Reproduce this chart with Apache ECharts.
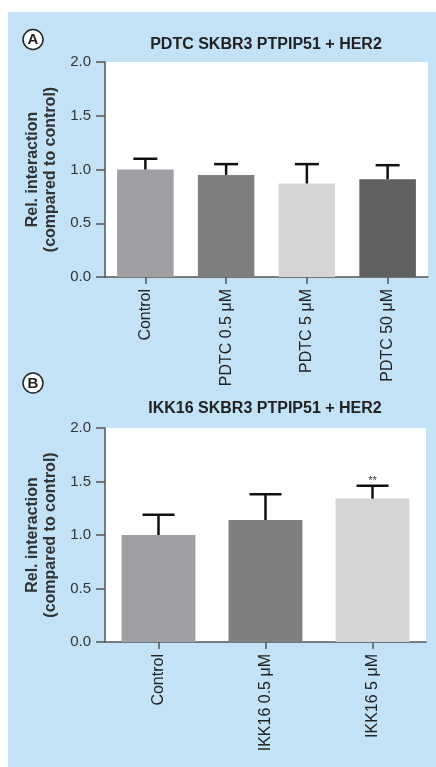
<!DOCTYPE html>
<html>
<head>
<meta charset="utf-8">
<script src="https://cdn.jsdelivr.net/npm/echarts@6/dist/echarts.min.js"></script>
<style>
  html, body { margin: 0; padding: 0; background: #ffffff; }
  #panel { position: absolute; left: 8px; top: 12px; right: 0; bottom: 0; background: #c3e2f5; }
  #chart { position: absolute; left: 0; top: 0; width: 436px; height: 767px; }
</style>
</head>
<body>
<div id="panel"></div>
<div id="chart"></div>
<script>
// Panel A: PDTC treatment
const catsA = ['Control', 'PDTC 0.5 μM', 'PDTC 5 μM', 'PDTC 50 μM'];
const meanA = [1.00, 0.95, 0.87, 0.91];
const semA = [0.10, 0.10, 0.18, 0.13];
const colorsA = ['#a09fa3', '#7e807e', '#d5d5d5', '#5f615f'];

// Panel B: IKK16 treatment
const catsB = ['Control', 'IKK16 0.5 μM', 'IKK16 5 μM'];
const meanB = [1.00, 1.14, 1.34];
const semB = [0.19, 0.24, 0.12];
const sigB = ['', '', '**'];
const colorsB = ['#a09fa3', '#7e807e', '#d5d5d5'];

const yTicks = [0, 0.5, 1.0, 1.5, 2.0];
const titleA = 'PDTC SKBR3 PTPIP51 + HER2';
const titleB = 'IKK16 SKBR3 PTPIP51 + HER2';
const yName = 'Rel. interaction\n(compared to control)';

const FONT = '"Liberation Sans", Arial, Helvetica, sans-serif';
const AXIS = '#555555';

function yAxisFor(gridIndex) {
  return {
    type: 'value', gridIndex: gridIndex,
    min: yTicks[0], max: yTicks[yTicks.length - 1], interval: 0.5,
    name: yName, nameLocation: 'middle', nameRotate: 90, nameGap: 43,
    nameTextStyle: { fontFamily: FONT, fontSize: 16, fontWeight: 'bold', color: '#333', lineHeight: 18, align: 'center' },
    axisLine: { show: true, lineStyle: { color: AXIS, width: 1.5 } },
    axisTick: { show: true, length: 9, lineStyle: { color: AXIS, width: 1.5 } },
    splitLine: { show: false },
    axisLabel: { fontFamily: FONT, fontSize: 15, color: '#333', margin: 14,
      formatter: v => v.toFixed(1) }
  };
}

function xAxisFor(gridIndex, cats) {
  return {
    type: 'category', gridIndex: gridIndex, data: cats,
    axisLine: { show: true, lineStyle: { color: AXIS, width: 1.5 } },
    axisTick: { show: true, alignWithLabel: true, length: 7, lineStyle: { color: AXIS, width: 1.5 } },
    axisLabel: { rotate: 90, fontFamily: FONT, fontSize: 16, color: '#222', margin: 12, interval: 0 }
  };
}

function barSeries(idx, means, colors, widthPct) {
  return {
    type: 'bar', xAxisIndex: idx, yAxisIndex: idx,
    barWidth: widthPct,
    data: means.map((v, i) => ({ value: v, itemStyle: { color: colors[i] } })),
    silent: true, z: 2
  };
}

// one-sided (upper) error bars with a horizontal cap, plus optional significance mark
function errSeries(idx, means, sems, capPx, marks) {
  return {
    type: 'custom', xAxisIndex: idx, yAxisIndex: idx, z: 5, silent: true,
    data: means.map((v, i) => [i, v, v + sems[i], marks ? marks[i] : '']),
    renderItem: function (params, api) {
      const i = api.value(0);
      const base = api.coord([i, api.value(1)]);
      const top = api.coord([i, api.value(2)]);
      const style = { stroke: '#111', lineWidth: 2.5 };
      const children = [
        { type: 'line', shape: { x1: base[0], y1: base[1], x2: top[0], y2: top[1] }, style: style },
        { type: 'line', shape: { x1: top[0] - capPx / 2, y1: top[1], x2: top[0] + capPx / 2, y2: top[1] }, style: style }
      ];
      const mark = api.value(3);
      if (mark) {
        children.push({ type: 'text', x: top[0], y: top[1] + 1,
          style: { text: mark, fontFamily: FONT, fontSize: 11, fill: '#333', align: 'center', verticalAlign: 'bottom' } });
      }
      return { type: 'group', children: children };
    }
  };
}

function circledLetter(cx, cy, letter) {
  return [
    { type: 'circle', shape: { cx: cx, cy: cy, r: 10 }, style: { fill: '#ffffff', stroke: '#222', lineWidth: 1.5 }, z: 10 },
    { type: 'text', x: cx, y: cy + 0.5, style: { text: letter, fontFamily: FONT, fontSize: 15, fontWeight: 'bold', fill: '#222', align: 'center', verticalAlign: 'middle' }, z: 11 }
  ];
}

function heading(cx, cy, text) {
  return { type: 'text', x: cx, y: cy, z: 10,
    style: { text: text, fontFamily: FONT, fontSize: 16, fontWeight: 'bold', fill: '#222', align: 'center', verticalAlign: 'middle' } };
}

const chart = echarts.init(document.getElementById('chart'), null, { renderer: 'canvas' });
chart.setOption({
  backgroundColor: 'transparent',
  animation: false,
  grid: [
    { left: 105, top: 62, width: 323, height: 215, show: true, backgroundColor: '#ffffff', borderWidth: 0 },
    { left: 105, top: 428, width: 321, height: 214, show: true, backgroundColor: '#ffffff', borderWidth: 0 }
  ],
  xAxis: [xAxisFor(0, catsA), xAxisFor(1, catsB)],
  yAxis: [yAxisFor(0), yAxisFor(1)],
  series: [
    barSeries(0, meanA, colorsA, '70%'),
    errSeries(0, meanA, semA, 24, null),
    barSeries(1, meanB, colorsB, '69%'),
    errSeries(1, meanB, semB, 32, sigB)
  ],
  graphic: [
    ...circledLetter(33, 39.5, 'A'),
    heading(266, 44.5, titleA),
    ...circledLetter(33, 383, 'B'),
    heading(265, 409, titleB)
  ]
});
</script>
</body>
</html>
